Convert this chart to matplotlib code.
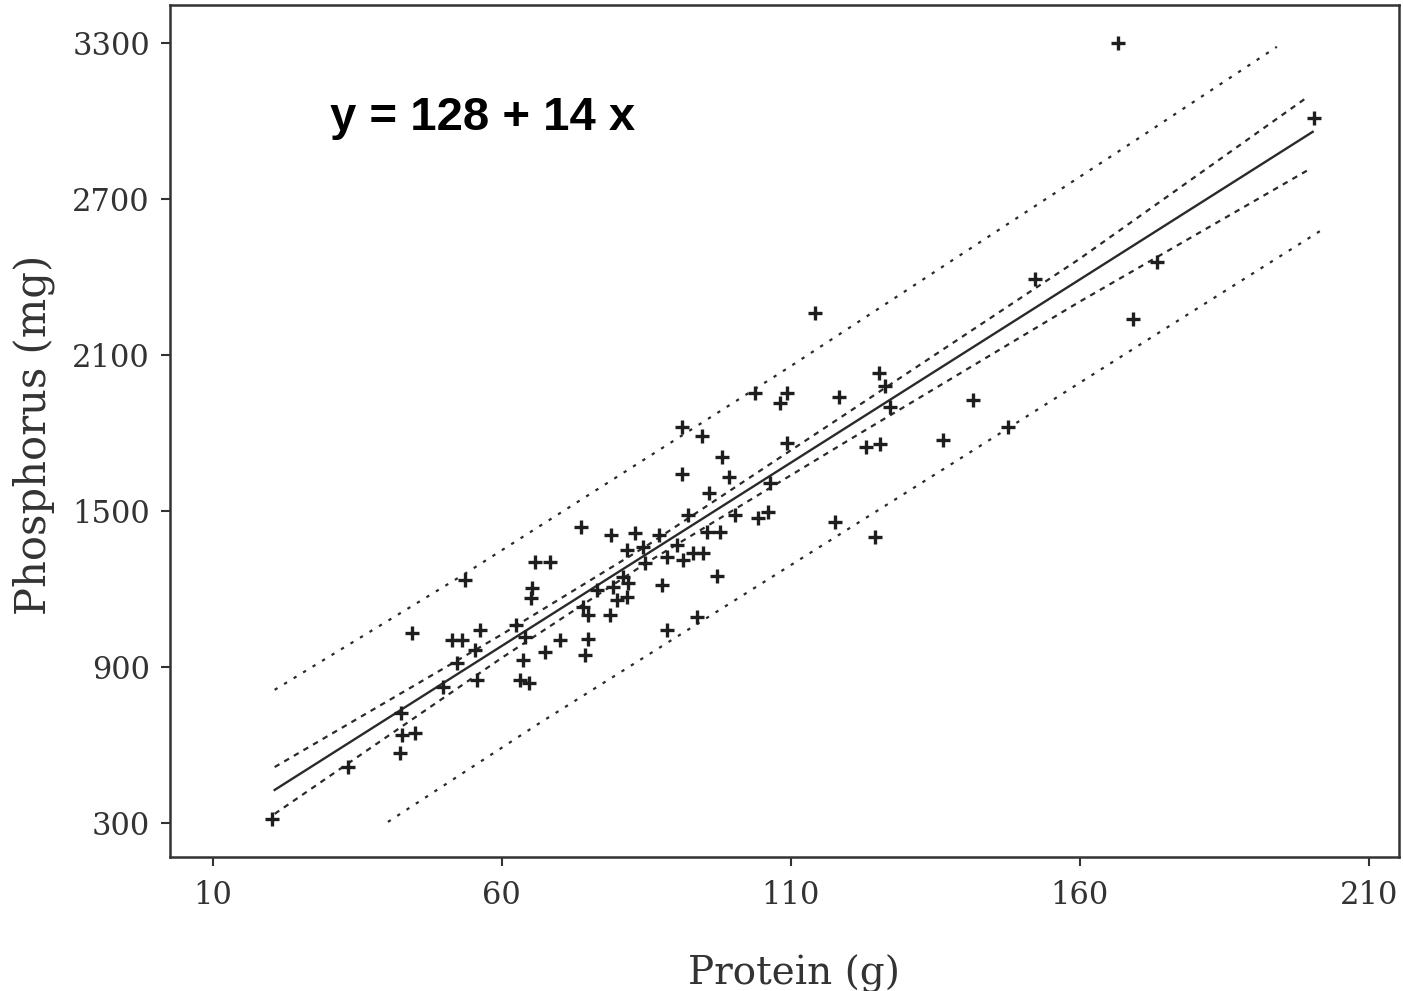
import matplotlib
matplotlib.use('Agg')
import matplotlib.pyplot as plt

# 数据：蛋白质(g) 与 磷(mg)
protein = [20.2, 33.4, 42.4, 42.7, 44.9, 42.5, 44.4, 49.8, 51.3, 53.1,
           53.6, 55.3, 56.2, 52.2, 55.7, 62.4, 64.0, 63.6, 63.1, 64.7,
           65.2, 65.0, 65.7, 68.3, 67.4, 70.0, 74.9, 74.4, 73.7, 78.9,
           83.0, 87.2, 81.6, 84.4, 76.4, 79.2, 80.9, 81.8, 79.9, 81.6,
           74.0, 74.9, 78.7, 84.7, 88.5, 90.3, 91.3, 93.0, 94.8, 87.7,
           97.2, 93.7, 88.5, 91.1, 94.6, 108.1, 109.3, 98.1, 91.1, 99.3,
           95.8, 92.2, 100.3, 104.3, 106.0, 95.5, 97.7, 106.4, 103.8, 109.3,
           114.2, 118.3, 125.2, 126.3, 127.1, 123.1, 125.4, 136.3, 141.5, 147.5,
           117.6, 124.5, 152.2, 173.3, 169.2, 166.6, 200.5]
phosphorus = [315, 515, 569, 638, 646, 723, 1031, 823, 1004, 1004,
              1235, 965, 1042, 915, 850, 1062, 1015, 927, 850, 838,
              1204, 1165, 1304, 1304, 958, 1004, 1008, 946, 1438, 1408,
              1415, 1408, 1350, 1362, 1196, 1208, 1246, 1223, 1158, 1169,
              1131, 1100, 1100, 1300, 1323, 1369, 1312, 1338, 1338, 1215,
              1250, 1092, 1042, 1823, 1788, 1915, 1761, 1708, 1642, 1631,
              1569, 1485, 1485, 1473, 1496, 1419, 1419, 1608, 1954, 1954,
              2261, 1938, 2031, 1981, 1900, 1746, 1758, 1773, 1927, 1823,
              1458, 1400, 2392, 2458, 2238, 3300, 3011]

# 回归线与置信带、预测带
fit_x = [20.7, 200.3]
fit_y = [427, 2958]
conf_up_x = [20.7, 60.0, 85.0, 120.0, 160.0, 199.6]
conf_up_y = [515, 1025, 1365, 1880, 2470, 3095]
conf_lo_x = [20.7, 60.0, 85.0, 120.0, 160.0, 199.8]
conf_lo_y = [335, 935, 1300, 1772, 2305, 2815]
pred_up_x = [20.7, 53.3, 109.8, 169.2, 194.1]
pred_up_y = [812, 1254, 2054, 2919, 3285]
pred_lo_x = [40.3, 66.6, 137.0, 175.0, 201.9]
pred_lo_y = [304, 685, 1669, 2204, 2581]

xticks = [10, 60, 110, 160, 210]
yticks = [300, 900, 1500, 2100, 2700, 3300]

fig = plt.figure(figsize=(14.03, 9.91), dpi=100)
ax = fig.add_axes([0.1212, 0.1352, 0.8758, 0.8598])

ink = '#2a2a2a'
ax.plot(fit_x, fit_y, color=ink, linewidth=1.7)
ax.plot(conf_up_x, conf_up_y, color=ink, linewidth=1.6, linestyle=(0, (2.5, 2.5)))
ax.plot(conf_lo_x, conf_lo_y, color=ink, linewidth=1.6, linestyle=(0, (2.5, 2.5)))
ax.plot(pred_up_x, pred_up_y, color=ink, linewidth=1.6, linestyle=(0, (1.5, 3.5)))
ax.plot(pred_lo_x, pred_lo_y, color=ink, linewidth=1.6, linestyle=(0, (1.5, 3.5)))
ax.plot(protein, phosphorus, linestyle='none', marker='+', markersize=10,
        markeredgewidth=2.4, color='#1e1e1e')

ax.text(30.2, 2965, 'y = 128 + 14 x', fontsize=34, fontweight='bold',
        family='Liberation Sans', ha='left', va='baseline')

ax.set_xlim(2.6, 215.2)
ax.set_ylim(169, 3446)
ax.set_xticks(xticks)
ax.set_yticks(yticks)
for lab in ax.get_xticklabels() + ax.get_yticklabels():
    lab.set_family('DejaVu Serif')
    lab.set_fontsize(22)
    lab.set_color('#333333')
ax.tick_params(axis='both', direction='out', length=6.5, width=1.5, color='#333333')
ax.tick_params(axis='x', pad=10)
ax.tick_params(axis='y', pad=8)
for s in ax.spines.values():
    s.set_linewidth(1.8)
    s.set_color('#333333')

ax.set_xlabel('Protein (g)', family='DejaVu Serif', fontsize=28, color='#333333')
ax.set_ylabel('Phosphorus (mg)', family='DejaVu Serif', fontsize=30, color='#333333')
ax.xaxis.set_label_coords(0.508, -0.115)
ax.yaxis.set_label_coords(-0.094, 0.496)

plt.savefig('out.png', dpi=100)
plt.close()
